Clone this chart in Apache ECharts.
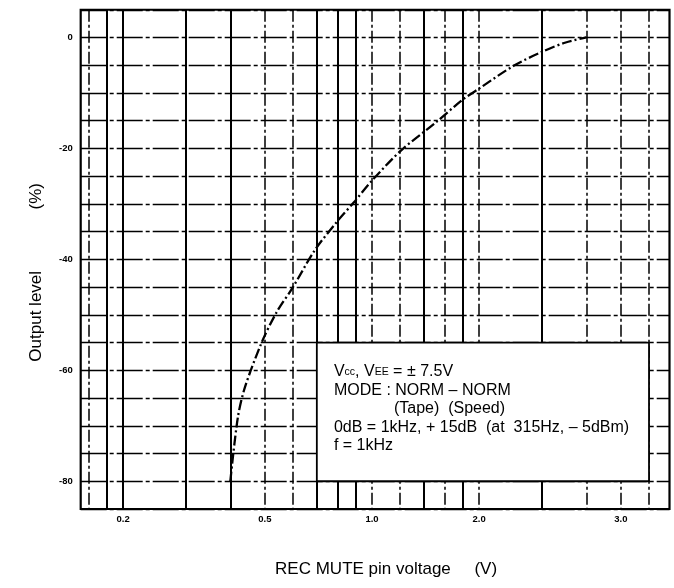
<!DOCTYPE html>
<html><head><meta charset="utf-8">
<script src="https://cdn.jsdelivr.net/npm/echarts@6/dist/echarts.min.js"></script>
<style>html,body{margin:0;padding:0;background:#fff}#c{width:674px;height:588px}</style>
</head><body><div id="c"></div>
<script>
// ---- data ----
const voltage     = [0.40, 0.42, 0.44, 0.49, 0.54, 0.60, 0.69, 0.80, 0.89, 1.00, 1.21, 1.50, 1.79, 2.00, 2.50, 3.00, 3.50, 4.00];
const outputLevel = [-80, -68.5, -63, -55, -49.5, -45, -38.4, -33.1, -29.7, -25.8, -20.3, -15.5, -11.3, -9.2, -5.1, -2.6, -0.9, 0];
const xTickValues = [0.2, 0.5, 1, 2, 5];
const xTickLabels = ['0.2', '0.5', '1.0', '2.0', '3.0'];
const yTickValues = [0, -20, -40, -60, -80];
const yTickLabels = ['0', '-20', '-40', '-60', '-80'];
const xGridSolid  = [0.18, 0.2, 0.3, 0.4, 0.7, 0.8, 0.9, 1.4, 1.8, 3.0];
const xGridDashed = [0.16, 0.5, 0.6, 1.0, 1.2, 1.6, 2.0, 4.0, 5.0, 6.0];
const xRange = [0.152, 6.85];
const yRange = [-85, 5];
const noteBox = [[0.7, -55], [6.0, -80]];
const noteLines = [
  'V{s|cc}, V{s|EE} = ± 7.5V',
  'MODE : NORM – NORM',
  '{ind| }(Tape)  (Speed)',
  '0dB = 1kHz, + 15dB  (at  315Hz, – 5dBm)',
  'f = 1kHz'
];

const L = v => Math.log10(v);
function xLabel(v) {
  let bi = 0, bd = Infinity;
  xTickValues.forEach((t, i) => { const d = Math.abs(L(t) - v); if (d < bd) { bd = d; bi = i; } });
  return xTickLabels[bi];
}
const FONT = '"Liberation Sans", Arial, sans-serif';

const chart = echarts.init(document.getElementById('c'), null, {renderer: 'canvas'});
chart.setOption({
  animation: false,
  backgroundColor: '#fff',
  textStyle: {fontFamily: FONT},
  grid: {left: 80.7, right: 4.5, top: 9.75, bottom: 79, show: true,
         borderColor: '#000', borderWidth: 2.2, backgroundColor: 'transparent'},
  xAxis: [
    {type: 'log', logBase: 10, position: 'top', min: xRange[0], max: xRange[1],
     axisLine: {show: false}, axisTick: {show: false}, axisLabel: {show: false}, splitLine: {show: false}},
    {type: 'value', position: 'bottom', min: L(xRange[0]), max: L(xRange[1]),
     axisLine: {show: false},
     axisTick: {show: false, customValues: xGridSolid.map(L)},
     splitLine: {show: true, lineStyle: {color: '#000', width: 2}},
     axisLabel: {customValues: xTickValues.map(L), formatter: xLabel, fontSize: 9.5, fontWeight: 'bold',
                 color: '#000', margin: 5, fontFamily: FONT},
     name: 'REC MUTE pin voltage     (V)', nameLocation: 'middle', nameGap: 52,
     nameTextStyle: {fontSize: 17, color: '#000', fontFamily: FONT, padding: [0, 0, 0, 22]}},
    {type: 'value', position: 'top', min: L(xRange[0]), max: L(xRange[1]),
     axisLine: {show: false},
     axisTick: {show: false, customValues: xGridDashed.map(L)},
     splitLine: {show: true, lineStyle: {color: '#000', width: 1.5, type: [12, 3, 3, 3]}},
     axisLabel: {show: false}}
  ],
  yAxis: {
    type: 'value', min: yRange[0], max: yRange[1], interval: 5,
    axisLine: {show: false}, axisTick: {show: false},
    splitLine: {show: true, lineStyle: {color: '#000', width: 1.4, type: [26, 3, 4, 3]}},
    axisLabel: {formatter: v => { const i = yTickValues.indexOf(v); return i >= 0 ? yTickLabels[i] : ''; },
                fontSize: 9.5, fontWeight: 'bold', color: '#000', margin: 8, fontFamily: FONT},
    name: 'Output level             (%)', nameLocation: 'middle', nameGap: 36,
    nameTextStyle: {fontSize: 17, color: '#000', fontFamily: FONT, padding: [0, 26, 0, 0]}
  },
  series: [{
    type: 'line', xAxisIndex: 0, yAxisIndex: 0,
    data: voltage.map((v, i) => [v, outputLevel[i]]),
    showSymbol: false, smooth: 0.3, z: 5,
    lineStyle: {color: '#000', width: 2.3, type: [10, 3, 2, 3]},
    markArea: {
      silent: true, z: 3,
      itemStyle: {color: '#fff', borderColor: '#000', borderWidth: 1.8},
      label: {show: true, position: 'insideTopLeft', distance: 5, padding: [16, 0, 0, 13],
              formatter: noteLines.join('\n'), fontSize: 16, lineHeight: 18.5, color: '#000', fontFamily: FONT,
              rich: {s: {fontSize: 10.5, lineHeight: 18.5, fontFamily: FONT, color: '#000'},
                     ind: {width: 60, fontSize: 16, lineHeight: 18.5}}},
      data: [[{coord: noteBox[0]}, {coord: noteBox[1]}]]
    }
  }]
});
</script></body></html>
